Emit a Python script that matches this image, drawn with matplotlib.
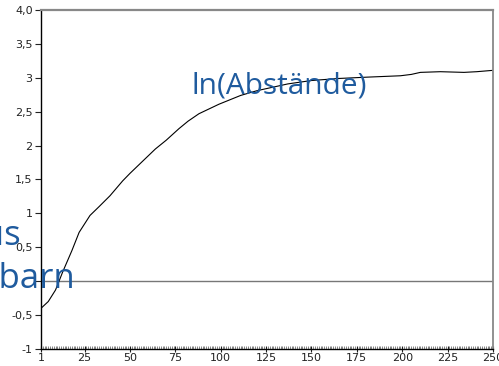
import matplotlib
matplotlib.use("Agg")
import matplotlib.pyplot as plt
from matplotlib.ticker import FixedLocator, MultipleLocator

# data
t = [1, 5, 9, 13, 18, 22, 28, 33, 39, 46, 50, 57, 64, 70, 77, 82, 88, 99, 111, 120, 137, 150, 165, 181, 199, 205, 210, 221, 234, 241, 250]
ln_dist = [-0.40, -0.30, -0.13, 0.14, 0.45, 0.72, 0.97, 1.10, 1.26, 1.48, 1.59, 1.77, 1.95, 2.08, 2.25, 2.36, 2.47, 2.61, 2.74, 2.81, 2.91, 2.96, 2.99, 3.01, 3.03, 3.05, 3.08, 3.09, 3.08, 3.09, 3.11]

xticks = [1, 25, 50, 75, 100, 125, 150, 175, 200, 225, 250]
yticks = [4.0, 3.5, 3.0, 2.5, 2.0, 1.5, 1.0, 0.5, 0.0, -0.5, -1.0]
ytick_labels = ["4,0", "3,5", "3", "2,5", "2", "1,5", "1", "0,5", "", "-0,5", "-1"]

fig = plt.figure(figsize=(4.99, 3.66), dpi=100)
ax = fig.add_axes([41/499, 17/366, (493-41)/499, (349-10)/366])

ax.axhline(0, color="#777777", lw=1.0, zorder=1)
ax.plot(t, ln_dist, color="black", lw=0.8, zorder=2)

ax.set_xlim(1, 250)
ax.set_ylim(-1, 4)
ax.xaxis.set_major_locator(FixedLocator(xticks))
ax.xaxis.set_minor_locator(MultipleLocator(1))
ax.set_xticklabels([str(v) for v in xticks])
ax.set_yticks(yticks)
ax.set_yticklabels(ytick_labels)

ax.tick_params(axis="x", which="major", direction="inout", length=4, width=0.8,
               labelsize=8, colors="#222222", pad=1)
ax.tick_params(axis="x", which="minor", direction="in", length=2, width=0.5, color="#555555")
ax.tick_params(axis="y", which="major", direction="out", length=4, width=0.8,
               labelsize=8, colors="#222222", pad=2)
for lab in ax.get_xticklabels() + ax.get_yticklabels():
    lab.set_fontfamily("DejaVu Sans")

ax.spines["left"].set_color("black")
ax.spines["bottom"].set_color("black")
ax.spines["left"].set_linewidth(1.0)
ax.spines["bottom"].set_linewidth(1.0)
ax.spines["top"].set_color("#888888")
ax.spines["right"].set_color("#888888")
ax.spines["top"].set_linewidth(1.6)
ax.spines["right"].set_linewidth(1.3)

blue = "#1f5b9e"
fig.text(191/499, 1 - 93/366, "ln(Abstände)", color=blue, fontsize=21.5,
         family="Open Sans", ha="left", va="baseline")
fig.text(21/499, 1 - 245/366, "Radius", color=blue, fontsize=25,
         family="Open Sans", ha="right", va="baseline")
fig.text(75/499, 1 - 288/366, "Nachbarn", color=blue, fontsize=25,
         family="Open Sans", ha="right", va="baseline")

fig.savefig("out.png", dpi=100)
